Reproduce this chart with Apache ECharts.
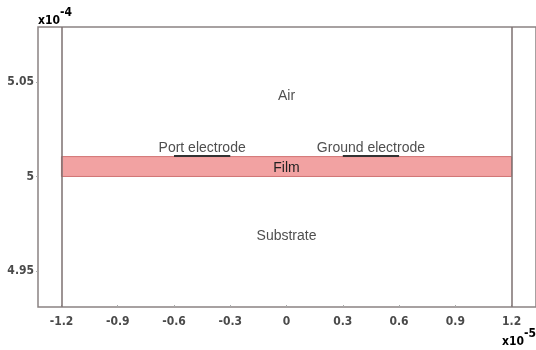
<!DOCTYPE html>
<html>
<head>
<meta charset="utf-8">
<script src="https://cdn.jsdelivr.net/npm/echarts@6/dist/echarts.min.js"></script>
<style>
  html, body { margin: 0; padding: 0; background: #fff; }
  #chart { width: 536px; height: 350px; }
</style>
</head>
<body>
<div id="chart"></div>
<script>
// axis ticks (x in units of 1e-5, y in units of 1e-4)
var xTicks = [-1.2, -0.9, -0.6, -0.3, 0, 0.3, 0.6, 0.9, 1.2];
var yTicks = [4.95, 5, 5.05];

// geometry of the model
var domainEdges = [-1.2, 1.2];
var film = { x0: -1.2, x1: 1.2, y0: 5.0, y1: 5.0105 };
var portElectrode = [[-0.6, 5.0108], [-0.3, 5.0108]];
var groundElectrode = [[0.3, 5.0108], [0.6, 5.0108]];

// region labels
var regionNames = ['Air', 'Port electrode', 'Ground electrode', 'Substrate'];
var regionPos = [[0, 5.0434], [-0.45, 5.0159], [0.45, 5.0159], [0, 4.9693]];

var chart = echarts.init(document.getElementById('chart'));

var tickFont = { fontFamily: 'DejaVu Sans Condensed', fontSize: 12, fontWeight: 'bold', color: '#4a4a4a' };

var option = {
  animation: false,
  grid: {
    left: 38, top: 27, right: -1, bottom: 43,
    show: true, borderColor: '#8a8282', borderWidth: 1.5
  },
  xAxis: {
    type: 'value',
    min: -1.325, max: 1.33,
    axisLine: { show: false, onZero: false },
    splitLine: { show: false },
    axisTick: { show: true, customValues: xTicks, inside: true, length: 2, lineStyle: { color: '#aaa' } },
    axisLabel: {
      customValues: xTicks, margin: 9,
      fontFamily: tickFont.fontFamily, fontSize: tickFont.fontSize, fontWeight: tickFont.fontWeight, color: tickFont.color,
      formatter: function (v) { return String(Math.round(v * 10) / 10); }
    }
  },
  yAxis: {
    type: 'value',
    min: 4.931, max: 5.079,
    axisLine: { show: false, onZero: false },
    splitLine: { show: false },
    axisTick: { show: true, customValues: yTicks, length: 2, lineStyle: { color: '#aaa' } },
    axisLabel: {
      customValues: yTicks, margin: 4,
      fontFamily: tickFont.fontFamily, fontSize: tickFont.fontSize, fontWeight: tickFont.fontWeight, color: tickFont.color,
      formatter: function (v) { return String(Math.round(v * 100) / 100); }
    }
  },
  graphic: [
    {
      type: 'text', left: 38, top: 7,
      style: {
        text: '{a|x10}{b|-4}',
        rich: {
          a: { fontFamily: tickFont.fontFamily, fontSize: 12, fontWeight: 'bold', color: tickFont.color, padding: [8, 0, 0, 0] },
          b: { fontFamily: tickFont.fontFamily, fontSize: 12, fontWeight: 'bold', color: tickFont.color, verticalAlign: 'top' }
        }
      }
    },
    {
      type: 'text', left: 502, top: 328,
      style: {
        text: '{a|x10}{b|-5}',
        rich: {
          a: { fontFamily: tickFont.fontFamily, fontSize: 12, fontWeight: 'bold', color: tickFont.color, padding: [8, 0, 0, 0] },
          b: { fontFamily: tickFont.fontFamily, fontSize: 12, fontWeight: 'bold', color: tickFont.color, verticalAlign: 'top' }
        }
      }
    }
  ],
  series: [
    {
      name: 'film',
      type: 'line',
      data: [],
      markArea: {
        silent: true,
        itemStyle: { color: '#f2a2a2', borderColor: '#d27474', borderWidth: 1 },
        label: { show: true, position: 'inside', offset: [0, 1.5], formatter: 'Film', fontFamily: 'Liberation Sans', fontSize: 14, color: '#222' },
        data: [[{ xAxis: film.x0, yAxis: film.y0 }, { xAxis: film.x1, yAxis: film.y1 }]]
      },
      markLine: {
        silent: true,
        symbol: ['none', 'none'],
        label: { show: false },
        lineStyle: { color: '#7c7070', width: 1.5, type: 'solid' },
        data: domainEdges.map(function (x) { return { xAxis: x }; })
      }
    },
    {
      name: 'port',
      type: 'line',
      data: portElectrode,
      symbol: 'none',
      lineStyle: { color: '#333', width: 2 }
    },
    {
      name: 'ground',
      type: 'line',
      data: groundElectrode,
      symbol: 'none',
      lineStyle: { color: '#333', width: 2 }
    },
    {
      name: 'labels',
      type: 'scatter',
      symbolSize: 0,
      data: regionNames.map(function (n, i) { return { name: n, value: regionPos[i] }; }),
      label: {
        show: true, position: 'inside', offset: [0, 2],
        formatter: '{b}',
        fontFamily: 'Liberation Sans', fontSize: 14, color: '#222'
      }
    }
  ]
};

chart.setOption(option);
</script>
</body>
</html>
